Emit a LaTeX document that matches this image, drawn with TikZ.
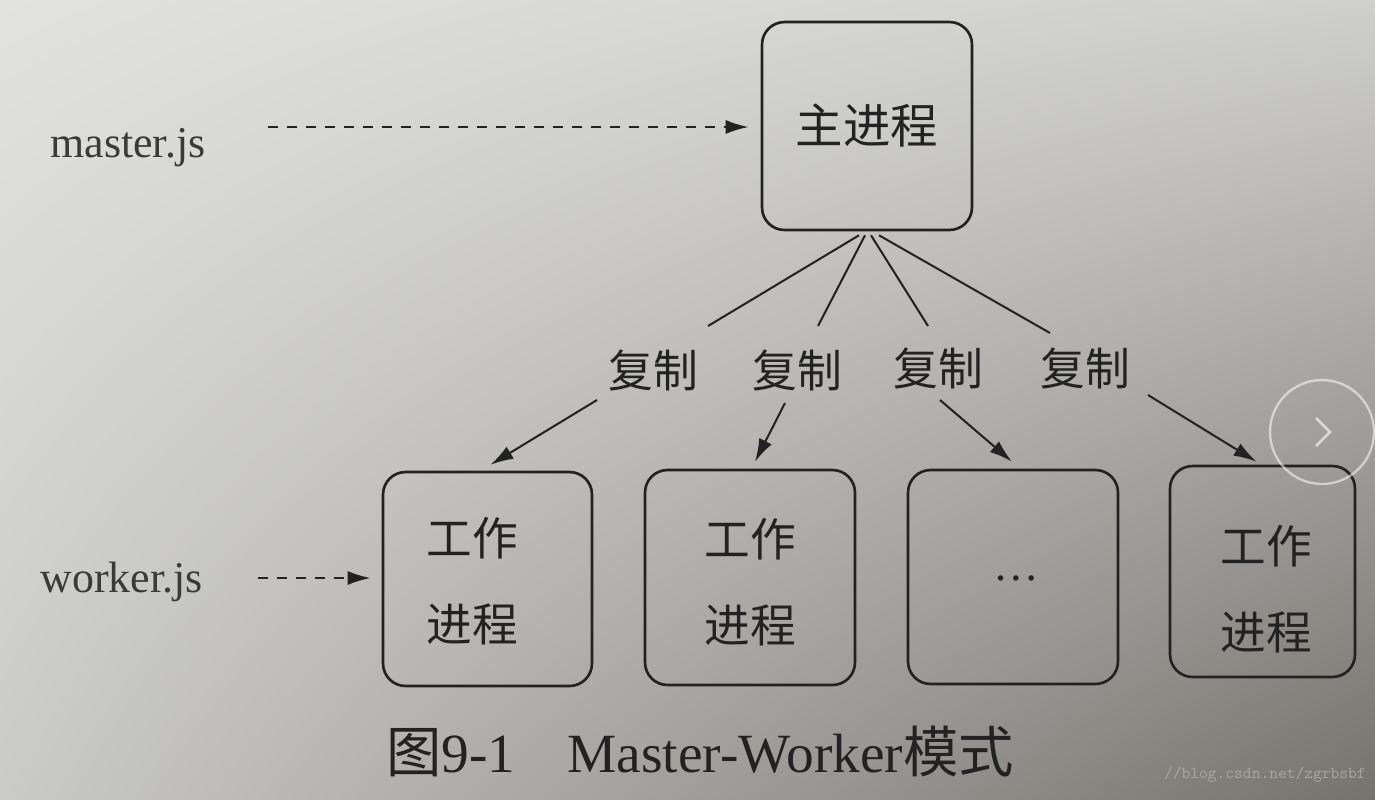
\documentclass[tikz,border=0pt]{standalone}
\usepackage{fontspec}
\setmainfont{Liberation Serif}
\newfontfamily\cjk{Noto Sans CJK SC}
\usetikzlibrary{arrows.meta,shadings}
\definecolor{ink}{HTML}{222222}
\definecolor{txt}{HTML}{3A3A3A}
\definecolor{bgUL}{HTML}{E2E2E0}
\definecolor{bgUR}{HTML}{CFCFCD}
\definecolor{bgLL}{HTML}{CACAC8}
\definecolor{bgLR}{HTML}{76726E}
\definecolor{wm}{HTML}{A6A6A4}
\begin{document}
\begin{tikzpicture}[x=0.02cm,y=-0.02cm,
  box/.style={draw=ink,line width=1.5pt,rounded corners=0.45cm,inner sep=0pt},
  cjklab/.style={text=ink,inner sep=0pt,font=\cjk\fontsize{25.5}{30}\selectfont},
  worktext/.style={text=ink,inner sep=0pt,align=center,font=\cjk\fontsize{26}{49}\selectfont},
  jslab/.style={text=txt,inner sep=0pt,font=\fontsize{25}{30}\selectfont},
  conn/.style={draw=ink,line width=1.15pt},
  arr/.style={draw=ink,line width=1.15pt,-{Latex[length=0.46cm,width=0.28cm]}},
  dasharr/.style={draw=ink,line width=1.3pt,dash pattern=on 0.21cm off 0.17cm,-{Latex[length=0.46cm,width=0.28cm]}}
]
\useasboundingbox (0,0) rectangle (1375,799);
\shade[upper left=bgUL,upper right=bgUR,lower left=bgLL,lower right=bgLR] (0,0) rectangle (1375,799);

% master
\node[box,minimum width=4.2cm,minimum height=4.16cm,font=\cjk\fontsize{27}{32}\selectfont,text=ink] (m) at (867,126) {主进程};

% workers
\node[box,minimum width=4.18cm,minimum height=4.28cm] (w1) at (487.5,579) {};
\node[box,minimum width=4.2cm,minimum height=4.3cm] (w2) at (750,577.5) {};
\node[box,minimum width=4.2cm,minimum height=4.28cm] (w3) at (1013,577) {};
\node[box,minimum width=3.7cm,minimum height=4.22cm] (w4) at (1262.5,571.5) {};
\node[worktext] (t1) at (472,581) {工作\\进程};
\node[worktext] (t2) at (750,582) {工作\\进程};
\node[text=ink,inner sep=0pt,font=\fontsize{26}{30}\selectfont] (t3) at (1016,578) {…};
\node[worktext] (t4) at (1266,589) {工作\\进程};

% copy labels
\node[cjklab] (c1) at (653,370) {复制};
\node[cjklab] (c2) at (797,370) {复制};
\node[cjklab] (c3) at (938,368) {复制};
\node[cjklab] (c4) at (1085,368) {复制};

% js labels
\node[jslab,anchor=base west] (mjs) at (50,157) {master.js};
\node[jslab,anchor=base west] (wjs) at (40,592) {worker.js};

% lines from master to labels
\draw[conn] ([shift={(-8,4)}]m.south) -- ([shift={(55,-44)}]c1.center);
\draw[conn] ([shift={(-2,4)}]m.south) -- ([shift={(21,-44)}]c2.center);
\draw[conn] ([shift={(4,4)}]m.south) -- ([shift={(-10,-42)}]c3.center);
\draw[conn] ([shift={(12,4)}]m.south) -- ([shift={(-35,-35)}]c4.center);

% arrows from labels to workers
\draw[arr] ([shift={(-56,30)}]c1.center) -- ([shift={(3,-6)}]w1.north);
\draw[arr] ([shift={(-12,33)}]c2.center) -- ([shift={(5,-7)}]w2.north);
\draw[arr] ([shift={(2,32)}]c3.center) -- ([shift={(-1,-7)}]w3.north);
\draw[arr] ([shift={(63,27)}]c4.center) -- ([shift={(-6,-3)}]w4.north);

% dashed arrows
\draw[dasharr] ([shift={(62,-30)}]mjs.base east) -- ([shift={(-12,1)}]m.west);
\draw[dasharr] ([shift={(55,-14)}]wjs.base east) -- ([shift={(-11,-1)}]w1.west);

% caption
\node[text=ink,inner sep=0pt,anchor=base west,font=\fontsize{31.5}{36}\selectfont] (cap) at (386,772) {{\cjk 图}9-1\hspace{1.04cm}Master-Worker{\cjk 模式}};

% watermark and overlay
\node[text=wm,inner sep=0pt,anchor=east,font=\ttfamily\fontsize{9.5}{11}\selectfont] (wmk) at (1366,775) {//blog.csdn.net/zgrbsbf};
\draw[white,opacity=0.55,line width=1.3pt] (1322,432) circle[radius=1.04cm];
\draw[white,opacity=0.6,line width=1.5pt] (1316,418) -- (1330,432) -- (1316,446);
\end{tikzpicture}
\end{document}
